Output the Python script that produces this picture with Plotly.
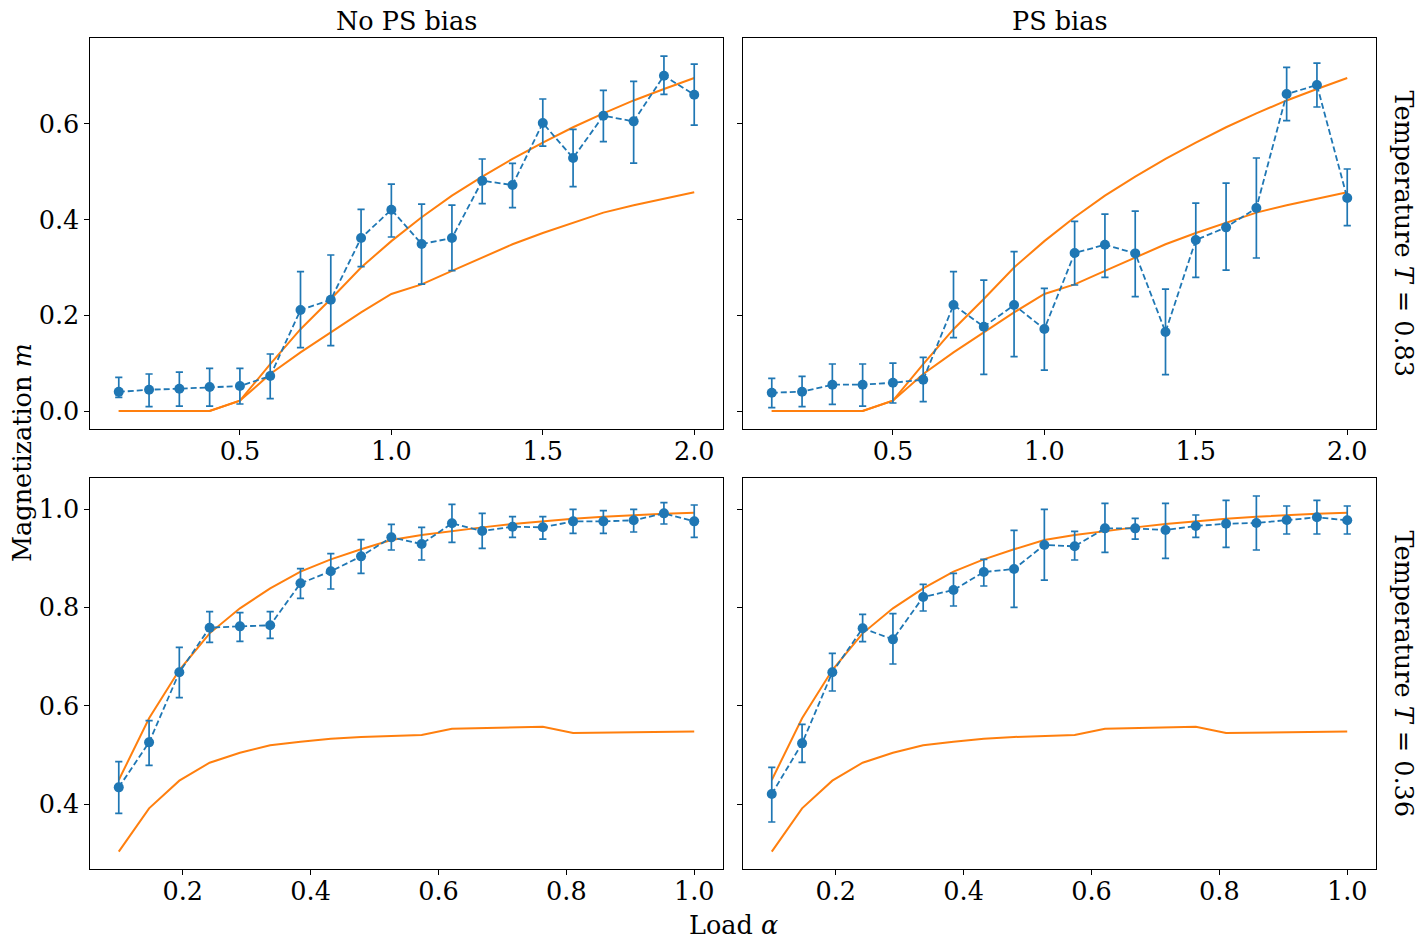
import plotly.graph_objects as go

W, H = 1427, 949

# ---------------- data ----------------
alpha_hi = [0.1, 0.2, 0.3, 0.4, 0.5, 0.6, 0.7, 0.8, 0.9, 1.0,
            1.1, 1.2, 1.3, 1.4, 1.5, 1.6, 1.7, 1.8, 1.9, 2.0]
alpha_lo = [0.1, 0.1474, 0.1947, 0.2421, 0.2895, 0.3368, 0.3842, 0.4316, 0.4789, 0.5263,
            0.5737, 0.6211, 0.6684, 0.7158, 0.7632, 0.8105, 0.8579, 0.9053, 0.9526, 1.0]

# T = 0.83, no PS bias
m_hi_nops = [0.040, 0.0445, 0.0466, 0.0501, 0.0522, 0.0731, 0.211, 0.2326, 0.3615, 0.4207,
             0.3489, 0.3615, 0.4813, 0.4722, 0.6018, 0.5287, 0.6171, 0.6053, 0.7007, 0.6610]
up_hi_nops = [0.0703, 0.0773, 0.0814, 0.0891, 0.0891, 0.1191, 0.2911, 0.326, 0.4214, 0.4743,
              0.4325, 0.4304, 0.5266, 0.5175, 0.652, 0.5886, 0.6701, 0.6889, 0.7418, 0.7251]
lo_hi_nops = [0.0285, 0.009, 0.0104, 0.0104, 0.0146, 0.0257, 0.1323, 0.1365, 0.3016, 0.3636,
              0.2653, 0.2932, 0.4332, 0.4249, 0.5537, 0.4688, 0.5628, 0.5182, 0.6617, 0.5976]

# T = 0.83, PS bias
m_hi_ps = [0.0382, 0.0403, 0.055, 0.055, 0.0591, 0.0654, 0.2215, 0.1762, 0.2215, 0.1713,
           0.3301, 0.3475, 0.3294, 0.165, 0.3573, 0.3838, 0.4242, 0.6624, 0.6812, 0.4451]
up_hi_ps = [0.0682, 0.0724, 0.0982, 0.0982, 0.1002, 0.1121, 0.2911, 0.2737, 0.3329, 0.2563,
            0.3963, 0.4116, 0.4179, 0.2549, 0.4346, 0.4764, 0.5287, 0.7181, 0.7272, 0.5057]
lo_hi_ps = [0.0069, 0.009, 0.0139, 0.0104, 0.0167, 0.0194, 0.1532, 0.0766, 0.1135, 0.0856,
            0.2633, 0.2793, 0.2389, 0.0759, 0.2793, 0.2946, 0.3197, 0.6067, 0.6353, 0.3873]

# T = 0.83 theory curves
th_hi_a = [0.0, 0.0, 0.0, 0.0, 0.0215, 0.098, 0.171, 0.234, 0.300, 0.355,
           0.405, 0.450, 0.490, 0.527, 0.561, 0.593, 0.622, 0.649, 0.673, 0.696]
th_hi_b = [0.0, 0.0, 0.0, 0.0, 0.0215, 0.0773, 0.1226, 0.1643, 0.206, 0.2445,
           0.2647, 0.2928, 0.3205, 0.3484, 0.3721, 0.3937, 0.4146, 0.430, 0.444, 0.457]

# T = 0.36, no PS bias
m_lo_nops = [0.4345, 0.5259, 0.6682, 0.7589, 0.7616, 0.7637, 0.849, 0.8734, 0.9038, 0.9424,
             0.9289, 0.9709, 0.9553, 0.9641, 0.9628, 0.9749, 0.9749, 0.977, 0.9912, 0.9749]
up_lo_nops = [0.4867, 0.570, 0.719, 0.7914, 0.7894, 0.7914, 0.8788, 0.9092, 0.9377, 0.9689,
              0.9628, 1.0095, 0.9912, 0.9844, 0.9844, 0.9993, 0.9966, 0.9993, 1.0129, 1.0081]
lo_lo_nops = [0.3817, 0.4792, 0.6167, 0.7291, 0.7311, 0.7372, 0.8185, 0.8375, 0.8693, 0.9167,
              0.8964, 0.9323, 0.9201, 0.9424, 0.939, 0.9506, 0.9506, 0.9533, 0.9695, 0.9424]

# T = 0.36, PS bias
m_lo_ps = [0.421, 0.5239, 0.6682, 0.7576, 0.7352, 0.8212, 0.8354, 0.872, 0.8781, 0.9269,
           0.9242, 0.9607, 0.9607, 0.9573, 0.9655, 0.9702, 0.9716, 0.9777, 0.9831, 0.977]
up_lo_ps = [0.4752, 0.5625, 0.7068, 0.786, 0.7873, 0.8469, 0.8693, 0.8977, 0.9567, 0.9993,
            0.9546, 1.0115, 0.981, 1.0115, 0.9878, 1.0176, 1.0264, 1.0061, 1.0176, 1.0061]
lo_lo_ps = [0.3641, 0.4853, 0.6302, 0.7305, 0.6851, 0.7928, 0.8029, 0.8436, 0.8002, 0.8557,
            0.8964, 0.912, 0.939, 0.8998, 0.9424, 0.9221, 0.9167, 0.9492, 0.9492, 0.9492]

# T = 0.36 theory curves
th_lo_a = [0.4494, 0.5747, 0.6729, 0.7474, 0.7982, 0.8388, 0.8727, 0.8977, 0.9181, 0.937,
           0.9472, 0.9553, 0.9627, 0.9695, 0.9756, 0.9804, 0.9844, 0.9878, 0.9905, 0.9925]
th_lo_b = [0.3038, 0.3919, 0.4481, 0.4846, 0.5049, 0.5198, 0.5273, 0.5334, 0.5368, 0.5395,
           0.5408, 0.5537, 0.5551, 0.5564, 0.5578, 0.5449, 0.5455, 0.5462, 0.5469, 0.5482]

col_titles = ["No PS bias", "PS bias"]
row_titles = ["Temperature <i>T</i> = 0.83", "Temperature <i>T</i> = 0.36"]
y_label = "Magnetization <i>m</i>"
x_label = "Load <i>α</i>"

BLUE = "#1f77b4"
ORANGE = "#ff7f0e"
FONT = "DejaVu Serif"
FS = 25.5

fig = go.Figure()

panels = [
    ("x", "y", alpha_hi, m_hi_nops, up_hi_nops, lo_hi_nops, th_hi_a, th_hi_b),
    ("x2", "y2", alpha_hi, m_hi_ps, up_hi_ps, lo_hi_ps, th_hi_a, th_hi_b),
    ("x3", "y3", alpha_lo, m_lo_nops, up_lo_nops, lo_lo_nops, th_lo_a, th_lo_b),
    ("x4", "y4", alpha_lo, m_lo_ps, up_lo_ps, lo_lo_ps, th_lo_a, th_lo_b),
]

for xa, ya, xs, m, up, lo, ta, tb in panels:
    for th in (ta, tb):
        fig.add_trace(go.Scatter(x=xs, y=th, xaxis=xa, yaxis=ya, mode="lines",
                                 line=dict(color=ORANGE, width=2), showlegend=False,
                                 hoverinfo="skip"))
    fig.add_trace(go.Scatter(
        x=xs, y=m, xaxis=xa, yaxis=ya, mode="lines+markers",
        line=dict(color=BLUE, width=1.8, dash="6px,3px"),
        marker=dict(color=BLUE, size=10),
        error_y=dict(type="data", symmetric=False,
                     array=[u - v for u, v in zip(up, m)],
                     arrayminus=[v - l for v, l in zip(m, lo)],
                     color=BLUE, thickness=1.7, width=3.6),
        showlegend=False))

def px_x(p):
    return p / W

def px_y(p):
    return 1 - p / H

xl = [px_x(90), px_x(723)]
xr = [px_x(743), px_x(1376)]
yt = [px_y(429), px_y(38)]
yb = [px_y(869), px_y(478)]

axis_common = dict(showgrid=False, zeroline=False, showline=True, mirror=True,
                   linecolor="black", linewidth=1.2, ticks="outside", ticklen=4.5,
                   tickwidth=1.1, tickcolor="black",
                   tickfont=dict(family=FONT, size=FS, color="black"))

top_x = dict(range=[0.005, 2.095], tickvals=[0.5, 1.0, 1.5, 2.0], tickformat=".1f",
             ticklabelstandoff=-5)
bot_x = dict(range=[0.055, 1.045], tickvals=[0.2, 0.4, 0.6, 0.8, 1.0], tickformat=".1f",
             ticklabelstandoff=-5)
top_y = dict(range=[-0.0376, 0.7795], tickvals=[0.0, 0.2, 0.4, 0.6], tickformat=".1f")
bot_y = dict(range=[0.2686, 1.063], tickvals=[0.4, 0.6, 0.8, 1.0], tickformat=".1f")

fig.update_layout(
    width=W, height=H, margin=dict(l=0, r=0, t=0, b=0),
    paper_bgcolor="white", plot_bgcolor="white", showlegend=False,
    xaxis=dict(domain=xl, anchor="y", **top_x, **axis_common),
    yaxis=dict(domain=yt, anchor="x", **top_y, **axis_common),
    xaxis2=dict(domain=xr, anchor="y2", **top_x, **axis_common),
    yaxis2=dict(domain=yt, anchor="x2", showticklabels=False, **top_y, **axis_common),
    xaxis3=dict(domain=xl, anchor="y3", **bot_x, **axis_common),
    yaxis3=dict(domain=yb, anchor="x3", **bot_y, **axis_common),
    xaxis4=dict(domain=xr, anchor="y4", **bot_x, **axis_common),
    yaxis4=dict(domain=yb, anchor="x4", showticklabels=False, **bot_y, **axis_common),
)

tfont = dict(family=FONT, size=FS, color="black")
ann = [
    dict(text=col_titles[0], x=px_x(406.5), y=px_y(21), textangle=0),
    dict(text=col_titles[1], x=px_x(1059.5), y=px_y(21), textangle=0),
    dict(text=row_titles[0], x=px_x(1404), y=px_y(233.5), textangle=90),
    dict(text=row_titles[1], x=px_x(1404), y=px_y(673.5), textangle=90),
    dict(text=y_label, x=px_x(22), y=px_y(453), textangle=-90),
    dict(text=x_label, x=px_x(733), y=px_y(925), textangle=0),
]
for a in ann:
    fig.add_annotation(xref="paper", yref="paper", showarrow=False,
                       xanchor="center", yanchor="middle", font=tfont, **a)

fig.write_html("out.html")
